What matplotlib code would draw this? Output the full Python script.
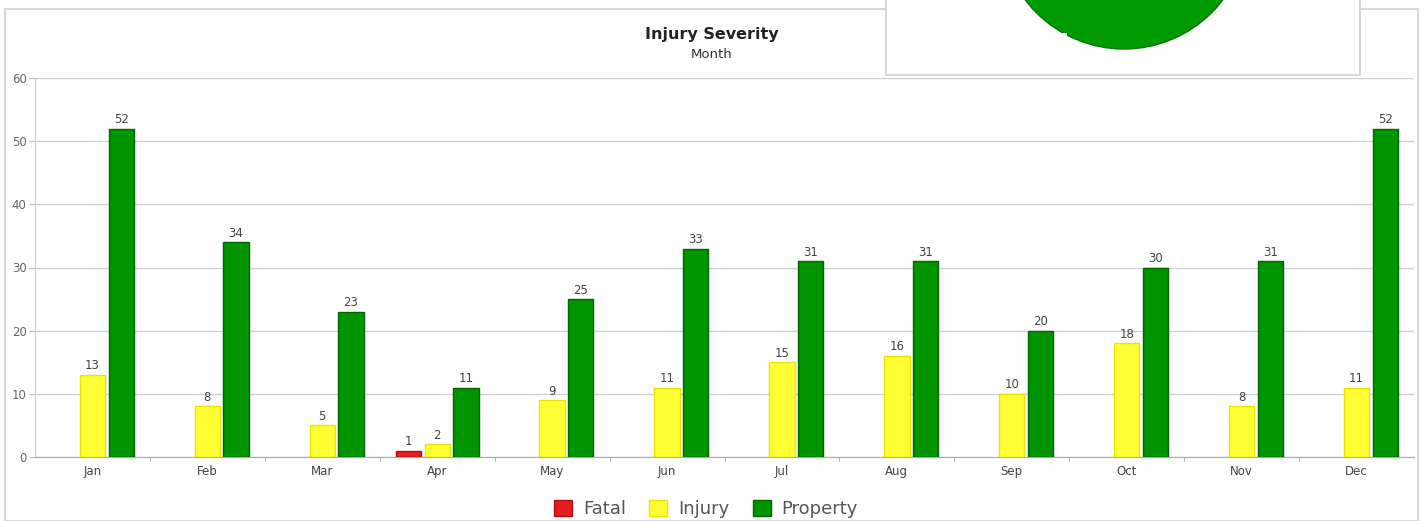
import matplotlib
matplotlib.use("Agg")
import matplotlib.pyplot as plt
import numpy as np
from matplotlib.patches import Rectangle, Circle
from matplotlib.transforms import IdentityTransform

months = ["Jan", "Feb", "Mar", "Apr", "May", "Jun", "Jul", "Aug", "Sep", "Oct", "Nov", "Dec"]
fatal = [0, 0, 0, 1, 0, 0, 0, 0, 0, 0, 0, 0]
injury = [13, 8, 5, 2, 9, 11, 15, 16, 10, 18, 8, 11]
property_ = [52, 34, 23, 11, 25, 33, 31, 31, 20, 30, 31, 52]

series = [
    ("Fatal", fatal, "#e41c1c", "#b01010"),
    ("Injury", injury, "#ffff33", "#e6e600"),
    ("Property", property_, "#009400", "#006400"),
]

fig = plt.figure(figsize=(14.24, 5.21), dpi=100)
ax = fig.add_axes([35 / 1424, 64 / 521, 1379 / 1424, 379 / 521])

x = np.arange(len(months))
offsets = [-0.25, 0.0, 0.25]
width = 0.22
handles = []
for (name, vals, face, edge), off in zip(series, offsets):
    vals = np.array(vals)
    keep = vals > 0
    bars = ax.bar(x[keep] + off, vals[keep], width=width, color=face,
                  edgecolor=edge, linewidth=1, label=name, zorder=3)
    for xi, v in zip(x[keep] + off, vals[keep]):
        ax.text(xi, v + 0.4, str(v), ha="center", va="bottom",
                fontsize=8.5, color="#444444", zorder=4)
    handles.append(bars)

ax.set_xlim(-0.5, 11.5)
ax.set_ylim(0, 60)
ax.set_yticks(range(0, 61, 10))
ax.set_xticks(x)
ax.set_xticklabels(months)
ax.set_xticks(np.arange(0.5, 11.5, 1), minor=True)
ax.tick_params(axis="x", which="major", length=0, labelsize=8.5, labelcolor="#444444", pad=6)
ax.tick_params(axis="x", which="minor", length=3, color="#aaaaaa")
ax.tick_params(axis="y", length=4, color="#bbbbbb", labelsize=8.5, labelcolor="#666666", pad=2)
ax.grid(axis="y", color="#d0d0d0", linewidth=1, zorder=0)
for s in ["top", "right"]:
    ax.spines[s].set_visible(False)
ax.spines["left"].set_color("#cccccc")
ax.spines["bottom"].set_color("#aaaaaa")

fig.text(712 / 1424, 1 - 34 / 521, "Injury Severity", ha="center", va="center",
         fontsize=11.5, fontweight="bold", color="#222222")
fig.text(712 / 1424, 1 - 55 / 521, "Month", ha="center", va="center",
         fontsize=9.5, color="#333333")

fig.legend(handles=handles, loc="center", bbox_to_anchor=(706 / 1424, 1 - 509 / 521),
           ncol=3, frameon=False, fontsize=13, handlelength=1.0, handleheight=1.0,
           columnspacing=1.3, handletextpad=0.6, labelcolor="#555555")

# outer border of the chart panel
fig.add_artist(Rectangle((5 / 1424, 0), 1413 / 1424, (521 - 9) / 521,
                         transform=fig.transFigure, fill=False,
                         edgecolor="#d8d8d8", linewidth=1.5))

# overlaid popup box with the green circle
fig.add_artist(Rectangle((886 / 1424, (521 - 75) / 521), 474 / 1424, 80 / 521,
                         transform=fig.transFigure, facecolor="white",
                         edgecolor="#d0d0d0", linewidth=1.2, zorder=5))
fig.add_artist(Circle((1124, 521 + 75), 124, transform=IdentityTransform(),
                      facecolor="#009900", edgecolor="#007a00", linewidth=1, zorder=6))
fig.add_artist(Rectangle((1056, 521 - 46), 11, 13, transform=IdentityTransform(),
                         facecolor="white", edgecolor="none", zorder=7))

fig.savefig("out.png", dpi=100)
